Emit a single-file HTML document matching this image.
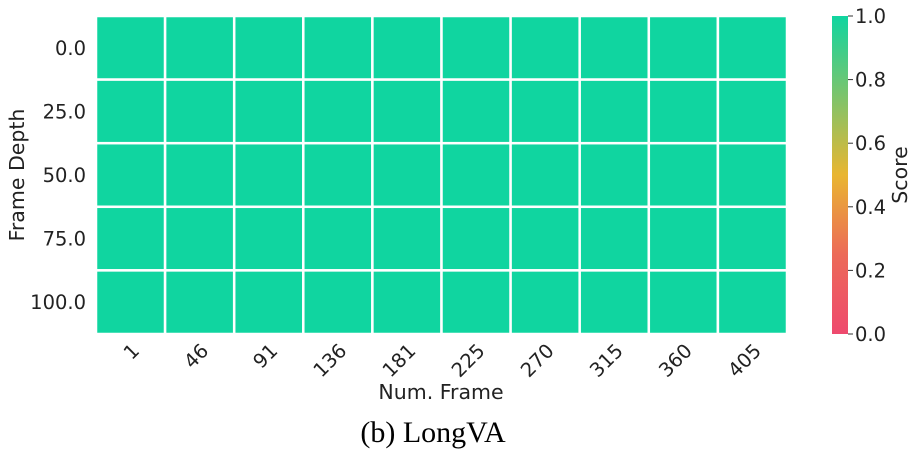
<!DOCTYPE html>
<html><head><meta charset="utf-8"><style>
body{margin:0;background:#fff;width:917px;height:456px;overflow:hidden}
svg text{font-family:"DejaVu Sans","Liberation Sans",sans-serif;fill:#222}
</style></head><body>
<svg id="c" width="917" height="456">
<defs><linearGradient id="g" x1="0" y1="1" x2="0" y2="0">
<stop offset="0" stop-color="#ee4a6e"/><stop offset="0.25" stop-color="#ec6a58"/>
<stop offset="0.5" stop-color="#e9b631"/><stop offset="0.75" stop-color="#7cc46c"/>
<stop offset="1" stop-color="#10d5a0"/></linearGradient></defs>
</svg>
<script>
const cols=["1","46","91","136","181","225","270","315","360","405"];
const rows=["0.0","25.0","50.0","75.0","100.0"];
const values=[[1,1,1,1,1,1,1,1,1,1],[1,1,1,1,1,1,1,1,1,1],[1,1,1,1,1,1,1,1,1,1],[1,1,1,1,1,1,1,1,1,1],[1,1,1,1,1,1,1,1,1,1]];
const cbTicks=[0,0.2,0.4,0.6,0.8,1.0];
const svg=document.getElementById('c');const NS="http://www.w3.org/2000/svg";
const X0=96,X1=787,Y0=16,Y1=334;
const cw=(X1-X0)/cols.length,ch=(Y1-Y0)/rows.length;
const xs=i=>X0+i*cw, ys=j=>Y0+j*ch;
function col(v){const s=[[0,[238,74,110]],[0.25,[236,106,88]],[0.5,[233,182,49]],[0.75,[124,196,108]],[1,[16,213,160]]];
for(let k=1;k<s.length;k++)if(v<=s[k][0]){const t=(v-s[k-1][0])/(s[k][0]-s[k-1][0]);const a=s[k-1][1],b=s[k][1];return`rgb(${a.map((x,i)=>Math.round(x+(b[i]-x)*t)).join(',')})`;}return'rgb(16,213,160)';}
function el(t,a,txt){const e=document.createElementNS(NS,t);for(const k in a)e.setAttribute(k,a[k]);if(txt!==undefined)e.textContent=txt;svg.appendChild(e);return e;}
values.forEach((r,j)=>r.forEach((v,i)=>{const e=el('rect',{x:xs(i),y:ys(j),width:cw,height:ch,fill:col(v),stroke:'#fff','stroke-width':2.5});

}));
rows.forEach((r,j)=>{const e=el('text',{x:86,y:ys(j)+ch/2+7,'text-anchor':'end','font-size':19.5},r);

});
cols.forEach((c,i)=>{const cx=xs(i)+cw/2+10,cy=352;const e=el('text',{x:cx,y:cy,'text-anchor':'end','font-size':19.5,transform:`rotate(-45 ${cx} ${cy})`},c);

});
let e=el('text',{x:441,y:399,'text-anchor':'middle','font-size':20.5},'Num. Frame');

e=el('text',{x:0,y:0,'text-anchor':'middle','font-size':20.5,transform:'translate(24 175) rotate(-90)'},'Frame Depth');

e=el('rect',{x:832,y:Y0,width:16,height:Y1-Y0,fill:'url(#g)'});

cbTicks.forEach(t=>{const y=Y1-t*(Y1-Y0);el('line',{x1:848,x2:853,y1:y,y2:y,stroke:'#333','stroke-width':1});
const tx=el('text',{x:855,y:y+7,'font-size':19.5},t.toFixed(1));

});
e=el('text',{x:0,y:0,'text-anchor':'middle','font-size':20.5,transform:'translate(907 175) rotate(-90)'},'Score');

e=el('text',{x:433,y:442,'text-anchor':'middle','font-size':30,style:'font-family:"Liberation Serif",serif;fill:#000'},'(b) LongVA');

</script>
</body></html>
